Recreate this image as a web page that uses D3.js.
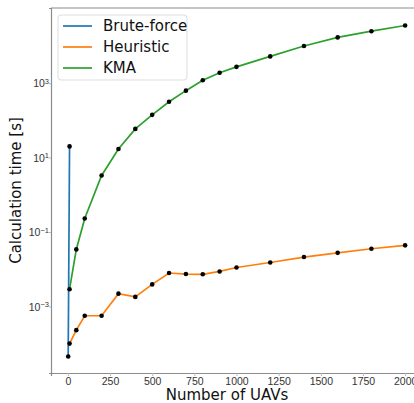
<!DOCTYPE html>
<html>
<head>
<meta charset="utf-8">
<script src="https://cdn.jsdelivr.net/npm/d3@7"></script>
<style>
  body { margin: 0; background: #fff; }
  svg { font-family: "DejaVu Sans", sans-serif; }
</style>
</head>
<body>
<div id="chart"></div>
<script>
const uavs = [10, 50, 100, 200, 300, 400, 500, 600, 700, 800, 900, 1000, 1200, 1400, 1600, 1800, 2000];
const bruteX = [2, 10];
const bruteTime = [4.5e-5, 20];
const heuristicTime = [1.0e-4, 2.3e-4, 5.6e-4, 5.6e-4, 2.2e-3, 1.8e-3, 3.9e-3, 7.9e-3, 7.4e-3, 7.3e-3, 8.7e-3, 0.0111, 0.0151, 0.0212, 0.0275, 0.0355, 0.0437];
const kmaTime = [2.9e-3, 0.034, 0.23, 3.3, 17, 59, 141, 316, 630, 1200, 1900, 2750, 5250, 10000, 17000, 25000, 35500];
const xTicks = [0, 250, 500, 750, 1000, 1250, 1500, 1750, 2000];
const yTicks = [1e-3, 1e-1, 1e1, 1e3];
const yExp = {"0.001": "−3", "0.1": "−1", "10": "1", "1000": "3"};

const width = 414, height = 403;
const margin = { left: 51, top: 8, right: -8, bottom: 30 };

const svg = d3.select("#chart").append("svg")
  .attr("width", width)
  .attr("height", height);

const x = d3.scaleLinear().domain([-100, 2100]).range([margin.left, width - margin.right]);
const y = d3.scaleLog().domain([1.62e-5, 1.05e5]).range([height - margin.bottom, margin.top]);

const series = [
  { name: "Brute-force", color: "#1f77b4", pts: bruteX.map((d, i) => [d, bruteTime[i]]) },
  { name: "Heuristic", color: "#ff7f0e", pts: uavs.map((d, i) => [d, heuristicTime[i]]) },
  { name: "KMA", color: "#2ca02c", pts: uavs.map((d, i) => [d, kmaTime[i]]) }
];

// axes
const xAxis = svg.append("g")
  .attr("transform", `translate(0,${height - margin.bottom})`)
  .call(d3.axisBottom(x).tickValues(xTicks).tickFormat(d3.format("d")).tickSize(3).tickPadding(2));
const yAxis = svg.append("g")
  .attr("transform", `translate(${margin.left},0)`)
  .call(d3.axisLeft(y).tickValues(yTicks).tickSize(2).tickPadding(2).tickFormat(""));

[xAxis, yAxis].forEach(a => {
  a.select(".domain").attr("stroke", "#8c8c8c").attr("stroke-width", 1.2);
  a.selectAll(".tick line").attr("stroke", "#bbb");
  a.selectAll("text").attr("fill", "#333").style("font-size", "10.5px");
});

yAxis.selectAll(".tick").append("text")
  .attr("x", -2)
  .attr("dy", "0.35em")
  .attr("text-anchor", "end")
  .attr("fill", "#333")
  .style("font-size", "10.5px")
  .each(function (d) {
    const t = d3.select(this);
    t.append("tspan").text("10");
    t.append("tspan").attr("dy", "-0.45em").style("font-size", "7.5px").text(yExp[String(d)]);
  });

// top spine
svg.append("line")
  .attr("x1", margin.left).attr("x2", width)
  .attr("y1", margin.top).attr("y2", margin.top)
  .attr("stroke", "#8c8c8c").attr("stroke-width", 1.2);

const line = d3.line().x(d => x(d[0])).y(d => y(d[1]));

series.forEach(s => {
  svg.append("path")
    .datum(s.pts)
    .attr("d", line)
    .attr("fill", "none")
    .attr("stroke", s.color)
    .attr("stroke-width", 1.7);
});
series.forEach(s => {
  svg.append("g").selectAll("circle")
    .data(s.pts)
    .enter()
    .append("circle")
    .attr("cx", d => x(d[0]))
    .attr("cy", d => y(d[1]))
    .attr("r", 2.3)
    .attr("fill", "#000");
});

// axis labels
svg.append("text")
  .attr("x", 227).attr("y", 400)
  .attr("text-anchor", "middle")
  .style("font-size", "15px")
  .attr("fill", "#111")
  .text("Number of UAVs");
svg.append("text")
  .attr("transform", `translate(21,${(margin.top + height - margin.bottom) / 2}) rotate(-90)`)
  .attr("text-anchor", "middle")
  .style("font-size", "15px")
  .attr("fill", "#111")
  .text("Calculation time [s]");

// legend
const legend = svg.append("g").attr("transform", "translate(58,15)");
legend.append("rect")
  .attr("width", 129).attr("height", 65)
  .attr("rx", 3)
  .attr("fill", "#fff").attr("fill-opacity", 0.8)
  .attr("stroke", "#ddd");
series.forEach((s, i) => {
  const row = legend.append("g").attr("transform", `translate(0,${11 + i * 21})`);
  row.append("line")
    .attr("x1", 5).attr("x2", 34)
    .attr("stroke", s.color).attr("stroke-width", 1.7);
  row.append("text")
    .attr("x", 45).attr("dy", "0.35em")
    .style("font-size", "15px")
    .attr("fill", "#111")
    .text(s.name);
});
</script>
</body>
</html>
